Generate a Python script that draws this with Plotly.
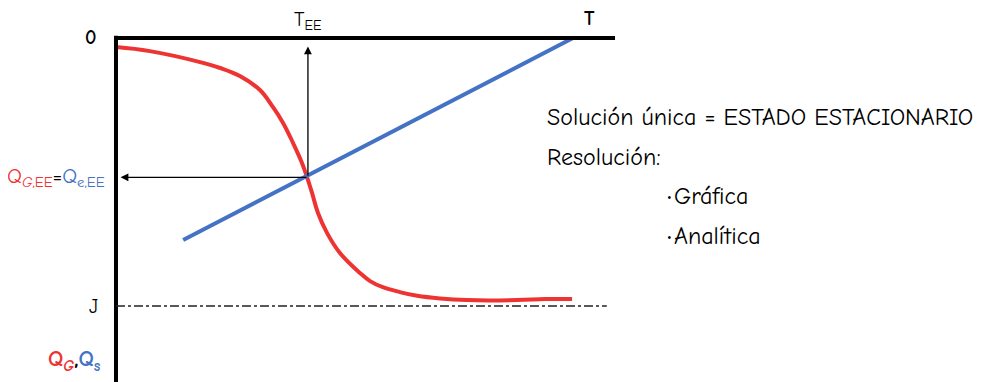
import plotly.graph_objects as go

# Data units: T (horizontal, 0 at origin, 100 at T-axis end of Qs line), Q (downward, J = 100)
red_T = [0, 7.4, 18.4, 22.8, 27.1, 31.5, 34.4, 36.5, 38.7, 40.7, 41.8, 42.9, 44.2, 46.2,
         49.0, 53.4, 55.6, 58.4, 62.1, 65.9, 70.9, 76.8, 87.7, 93.9, 99.8]
red_Q = [3.4, 4.9, 9.0, 11.2, 14.2, 19.4, 25.9, 31.5, 39.0, 46.6, 51.9, 57.8, 65.3, 72.8,
         80.2, 87.7, 90.7, 93.0, 94.8, 96.2, 97.2, 97.8, 97.8, 97.4, 97.4]
blue_T = [14.7, 100.0]
blue_Q = [75.4, 0.0]
T_EE = 42.0
Q_EE = 52.0
J_level = 100.0
axis_T_end = 109.2
J_line_end = 107.4

RED = "#EE3333"
BLUE = "#4472C4"
FONT = "Comic Sans MS, Comic Neue, Noto Sans, DejaVu Sans, sans-serif"

fig = go.Figure()
fig.add_trace(go.Scatter(x=red_T, y=red_Q, mode="lines",
                         line=dict(color=RED, width=4, shape="spline", smoothing=1.1),
                         hoverinfo="skip", showlegend=False))
fig.add_trace(go.Scatter(x=blue_T, y=blue_Q, mode="lines",
                         line=dict(color=BLUE, width=4),
                         hoverinfo="skip", showlegend=False))

# axes lines
fig.add_shape(type="line", x0=0, x1=0, y0=-0.8, y1=135, line=dict(color="black", width=4))
fig.add_shape(type="line", x0=-0.4, x1=axis_T_end, y0=0, y1=0, line=dict(color="black", width=4))
# J dash-dot line
fig.add_shape(type="line", x0=0, x1=J_line_end, y0=J_level, y1=J_level,
              line=dict(color="#222222", width=1.4, dash="dashdot"))

# arrows
fig.add_annotation(x=T_EE, y=3.2, ax=T_EE, ay=Q_EE, xref="x", yref="y", axref="x", ayref="y",
                   showarrow=True, arrowhead=2, arrowsize=1.2, arrowwidth=1.3, arrowcolor="black", text="")
fig.add_annotation(x=1.0, y=Q_EE, ax=T_EE, ay=Q_EE, xref="x", yref="y", axref="x", ayref="y",
                   showarrow=True, arrowhead=2, arrowsize=1.2, arrowwidth=1.3, arrowcolor="black", text="")

def txt(x, y, s, size=18, color="black", xanchor="center", bold=False):
    fig.add_annotation(x=x, y=y, xref="x", yref="y", text=(f"<b>{s}</b>" if bold else s),
                       showarrow=False, xanchor=xanchor, yanchor="middle",
                       font=dict(family=FONT, size=size, color=color))

txt(-5.5, 0, "0", 20, bold=True)
txt(103.7, -7.3, "T", 20, bold=True)
txt(T_EE, -6.5, "T<sub>EE</sub>", 20)
txt(-5.0, J_level, "J", 20)
fig.add_annotation(x=-2.0, y=Q_EE, xref="x", yref="y", showarrow=False, xanchor="right", yanchor="middle",
                   text=f"<span style='color:{RED}'>Q<sub><i>G</i>,EE</sub></span>=<span style='color:{BLUE}'>Q<sub>e,EE</sub></span>",
                   font=dict(family=FONT, size=21, color="black"))
fig.add_annotation(x=-2.8, y=120.5, xref="x", yref="y", showarrow=False, xanchor="right", yanchor="middle",
                   text=f"<b><span style='color:{RED}'>Q<sub><i>G</i></sub></span>,<span style='color:{BLUE}'>Q<sub>s</sub></span></b>",
                   font=dict(family=FONT, size=22, color="black"))

txt(93.9, 29.5, "Solución única = ESTADO ESTACIONARIO", 24, xanchor="left")
txt(93.9, 44.5, "Resolución:", 24, xanchor="left")
txt(121.6, 58.9, "Gráfica", 24, xanchor="left")
txt(121.6, 73.9, "Analítica", 24, xanchor="left")
txt(121.2, 59.5, "•", 15)
txt(121.2, 74.1, "•", 15)

# ranges compensate the page's 8px body margin
fig.update_layout(
    width=982, height=382, margin=dict(l=0, r=0, t=0, b=0),
    paper_bgcolor="white", plot_bgcolor="white",
    xaxis=dict(range=[-23.63, 191.25], visible=False, fixedrange=True),
    yaxis=dict(range=[131.34, -11.19], visible=False, fixedrange=True),
    showlegend=False,
)
fig.write_html("out.html")
